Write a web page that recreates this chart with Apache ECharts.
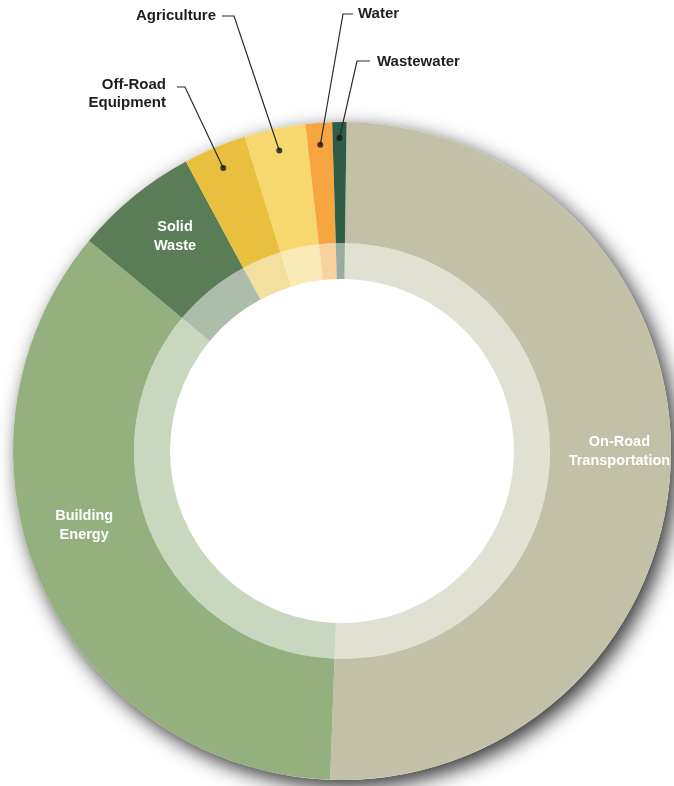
<!DOCTYPE html>
<html>
<head>
<meta charset="utf-8">
<script src="https://cdn.jsdelivr.net/npm/echarts@6/dist/echarts.min.js"></script>
<style>
  html, body { margin: 0; padding: 0; background: #ffffff; }
  #chart { width: 674px; height: 786px; }
</style>
</head>
<body>
<div id="chart"></div>
<script>
// Emission sectors, share of total (%)
const categories = ['On-Road\nTransportation', 'Building\nEnergy', 'Solid\nWaste', 'Off-Road\nEquipment', 'Agriculture', 'Water', 'Wastewater'];
const shares = [50.4, 35.5, 6.1, 3.1, 3.0, 1.3, 0.7];
const sectorColors = ['#c2c1a8', '#93b07e', '#5a7d58', '#e8c03e', '#f6d86e', '#f6a540', '#2e5c46'];

// Ring geometry
const CX = 342, CY = 451;
const R_OUTER = 329, R_MID = 208, R_INNER = 172;
const START_ANGLE = 89.2;
const FONT = '"Liberation Sans", Arial, Helvetica, sans-serif';

const total = shares.reduce((a, b) => a + b, 0);
const cumulative = [];
shares.reduce((acc, v, i) => { cumulative[i] = acc + v / 2; return acc + v; }, 0);

// Nudges for labels drawn inside the ring
const insideShift = { 0: [6, -6], 1: [-10, -36], 2: [5, -4] };

// Callout placement for the small sectors
const callouts = {
  3: { x: 166, y: 94, align: 'right', dotR: 307, elbow: [185, 87], end: [177, 87] },
  4: { x: 216, y: 16, align: 'right', dotR: 307, elbow: [234, 16], end: [222, 16] },
  5: { x: 358, y: 14, align: 'left', dotR: 307, elbow: [343, 14], end: [353, 14] },
  6: { x: 377, y: 62, align: 'left', dotR: 313, elbow: [357, 61], end: [370, 61] }
};

function polarPoint(r, share) {
  const a = (START_ANGLE - share / total * 360) * Math.PI / 180;
  return [CX + r * Math.cos(a), CY - r * Math.sin(a)];
}

// Coloured ring with the in-sector labels
const outerData = categories.map((name, i) => ({
  name: name,
  value: shares[i],
  itemStyle: { color: sectorColors[i] },
  label: callouts[i] ? { show: false } : { show: true, position: 'inside' }
}));

// Transparent copy of the ring, carrying the callout labels and leader lines on top
const calloutData = categories.map((name, i) => ({
  name: name,
  value: shares[i],
  label: { show: !!callouts[i] },
  labelLine: { show: !!callouts[i] }
}));

// Pale inner band
const innerData = categories.map((name, i) => ({
  name: name,
  value: shares[i],
  itemStyle: { color: sectorColors[i], opacity: 0.5 }
}));

const dotData = Object.keys(callouts).map(k => [callouts[k].dotR, cumulative[+k]]);

const chart = echarts.init(document.getElementById('chart'), null, { renderer: 'canvas' });

chart.setOption({
  animation: false,
  backgroundColor: '#ffffff',
  polar: { center: [CX, CY], radius: R_OUTER },
  angleAxis: { type: 'value', min: 0, max: total, startAngle: START_ANGLE, clockwise: true, show: false },
  radiusAxis: { type: 'value', min: 0, max: R_OUTER, show: false },
  series: [
    {
      // drop shadow under the whole disc
      type: 'pie',
      silent: true,
      z: 1,
      center: [CX, CY],
      radius: [0, R_OUTER],
      label: { show: false },
      labelLine: { show: false },
      itemStyle: {
        color: '#ffffff',
        shadowBlur: 20,
        shadowColor: 'rgba(0,0,0,0.8)',
        shadowOffsetX: 6,
        shadowOffsetY: 7
      },
      data: [{ value: 1 }]
    },
    {
      type: 'pie',
      silent: true,
      z: 2,
      center: [CX, CY],
      radius: [R_MID, R_OUTER],
      startAngle: START_ANGLE,
      clockwise: true,
      avoidLabelOverlap: false,
      label: {
        formatter: '{b}',
        fontFamily: FONT,
        fontWeight: 'bold',
        color: '#ffffff',
        fontSize: 14.5,
        lineHeight: 19
      },
      labelLine: { show: false },
      labelLayout: function (p) {
        const s = insideShift[p.dataIndex];
        return s ? { dx: s[0], dy: s[1] } : {};
      },
      data: outerData
    },
    {
      type: 'pie',
      silent: true,
      z: 2,
      center: [CX, CY],
      radius: [R_INNER, R_MID],
      startAngle: START_ANGLE,
      clockwise: true,
      label: { show: false },
      labelLine: { show: false },
      data: innerData
    },
    {
      type: 'pie',
      silent: true,
      z: 5,
      center: [CX, CY],
      radius: [R_MID, R_OUTER],
      startAngle: START_ANGLE,
      clockwise: true,
      avoidLabelOverlap: false,
      itemStyle: { color: 'rgba(0,0,0,0)' },
      label: {
        position: 'outside',
        formatter: '{b}',
        fontFamily: FONT,
        fontWeight: 'bold',
        color: '#1e1e1e',
        fontSize: 15,
        lineHeight: 18
      },
      labelLine: {
        lineStyle: { color: '#2a2a2a', width: 1.2 }
      },
      labelLayout: function (p) {
        const c = callouts[p.dataIndex];
        if (!c) return {};
        return {
          x: c.x,
          y: c.y,
          align: c.align,
          verticalAlign: 'middle',
          labelLinePoints: [polarPoint(c.dotR, cumulative[p.dataIndex]), c.elbow, c.end]
        };
      },
      data: calloutData
    },
    {
      type: 'scatter',
      coordinateSystem: 'polar',
      silent: true,
      symbol: 'circle',
      symbolSize: 6,
      itemStyle: { color: '#151515' },
      z: 10,
      data: dotData
    }
  ]
});
</script>
</body>
</html>
